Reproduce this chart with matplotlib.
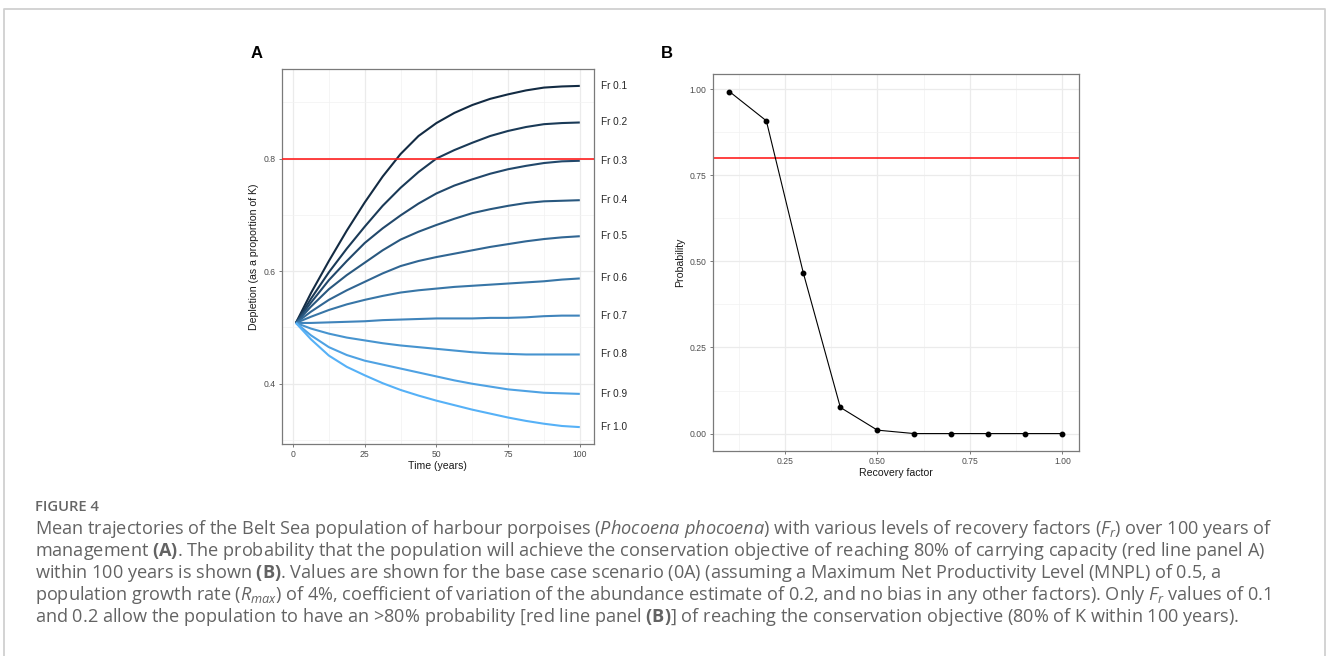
import matplotlib
matplotlib.use("Agg")
from matplotlib import pyplot as plt
from matplotlib.lines import Line2D
from matplotlib.colors import LinearSegmentedColormap
from matplotlib.ticker import FixedLocator

# Data - panel A (stredne trajektorie)
roky = [1, 6.25, 12.5, 18.75, 25, 31.25, 37.5, 43.75, 50,
        56.25, 62.5, 68.75, 75, 81.25, 87.5, 93.75, 100]
fr_01 = [0.508, 0.561, 0.618, 0.672, 0.722, 0.768, 0.808, 0.840, 0.863,
         0.881, 0.895, 0.906, 0.914, 0.921, 0.926, 0.928, 0.929]
fr_02 = [0.508, 0.551, 0.598, 0.640, 0.679, 0.716, 0.748, 0.776, 0.800,
         0.815, 0.828, 0.840, 0.849, 0.856, 0.861, 0.863, 0.864]
fr_03 = [0.508, 0.544, 0.584, 0.618, 0.650, 0.676, 0.699, 0.720, 0.738,
         0.752, 0.763, 0.773, 0.781, 0.787, 0.792, 0.795, 0.796]
fr_04 = [0.508, 0.537, 0.568, 0.593, 0.615, 0.637, 0.656, 0.670, 0.682,
         0.693, 0.703, 0.710, 0.716, 0.721, 0.724, 0.725, 0.726]
fr_05 = [0.508, 0.528, 0.549, 0.566, 0.581, 0.596, 0.609, 0.618, 0.625,
         0.631, 0.637, 0.643, 0.648, 0.653, 0.657, 0.660, 0.662]
fr_06 = [0.508, 0.519, 0.531, 0.541, 0.549, 0.556, 0.562, 0.566, 0.569,
         0.572, 0.574, 0.576, 0.578, 0.580, 0.582, 0.585, 0.587]
fr_07 = [0.508, 0.508, 0.509, 0.510, 0.511, 0.513, 0.514, 0.515, 0.516,
         0.516, 0.516, 0.517, 0.517, 0.518, 0.520, 0.521, 0.521]
fr_08 = [0.508, 0.498, 0.489, 0.482, 0.477, 0.472, 0.468, 0.465, 0.462,
         0.459, 0.456, 0.454, 0.453, 0.452, 0.452, 0.452, 0.452]
fr_09 = [0.508, 0.486, 0.465, 0.451, 0.441, 0.434, 0.427, 0.420, 0.413,
         0.406, 0.400, 0.395, 0.390, 0.387, 0.384, 0.383, 0.382]
fr_10 = [0.508, 0.479, 0.450, 0.430, 0.415, 0.401, 0.389, 0.379, 0.370,
         0.362, 0.354, 0.347, 0.340, 0.334, 0.329, 0.325, 0.323]
trajektorie = [fr_01, fr_02, fr_03, fr_04, fr_05, fr_06, fr_07, fr_08, fr_09, fr_10]
fr_popisy = ["Fr 0.1", "Fr 0.2", "Fr 0.3", "Fr 0.4", "Fr 0.5",
             "Fr 0.6", "Fr 0.7", "Fr 0.8", "Fr 0.9", "Fr 1.0"]

# Data - panel B (pravdepodobnost)
recovery_factor = [0.1, 0.2, 0.3, 0.4, 0.5, 0.6, 0.7, 0.8, 0.9, 1.0]
pravdepodobnost = [0.993, 0.908, 0.466, 0.076, 0.010, 0.0, 0.0, 0.0, 0.0, 0.0]
ciel = 0.8

popis_obrazku = "FIGURE 4"
riadky_popisu = [
    r"Mean trajectories of the Belt Sea population of harbour porpoises ($\mathit{Phocoena\ phocoena}$) with various levels of recovery factors ($F_r$) over 100 years of",
    r"management $\mathbf{(A)}$. The probability that the population will achieve the conservation objective of reaching 80% of carrying capacity (red line panel A)",
    r"within 100 years is shown $\mathbf{(B)}$. Values are shown for the base case scenario (0A) (assuming a Maximum Net Productivity Level (MNPL) of 0.5, a",
    r"population growth rate ($R_{max}$) of 4%, coefficient of variation of the abundance estimate of 0.2, and no bias in any other factors). Only $F_r$ values of 0.1",
    r"and 0.2 allow the population to have an >80% probability [red line panel $\mathbf{(B)}$] of reaching the conservation objective (80% of K within 100 years).",
]

plt.rcParams['font.family'] = ['Liberation Sans', 'DejaVu Sans']
plt.rcParams['mathtext.fontset'] = 'custom'
plt.rcParams['mathtext.rm'] = 'Open Sans'
plt.rcParams['mathtext.it'] = 'Open Sans:italic'
plt.rcParams['mathtext.bf'] = 'Open Sans:bold'

W, H = 1328, 656
fig = plt.figure(figsize=(W / 100, H / 100), dpi=100)


def fx(x):
    return x / W


def fy(y):
    return 1 - y / H


# Pomocna funkcia - styl ggplot theme_bw
def ggplot_styl(ax, x_major, x_minor, y_major, y_minor):
    ax.xaxis.set_major_locator(FixedLocator(x_major))
    ax.xaxis.set_minor_locator(FixedLocator(x_minor))
    ax.yaxis.set_major_locator(FixedLocator(y_major))
    ax.yaxis.set_minor_locator(FixedLocator(y_minor))
    ax.grid(which='major', color='#EBEBEB', linewidth=0.9)
    ax.grid(which='minor', color='#F2F2F2', linewidth=0.5)
    ax.set_axisbelow(True)
    for s in ax.spines.values():
        s.set_color('#7A7A7A')
        s.set_linewidth(0.9)
    ax.tick_params(which='major', length=2.5, width=0.7, color='#7A7A7A',
                   labelsize=6.2, labelcolor='#4D4D4D', pad=2)
    ax.tick_params(which='minor', length=0)


# Panel A
ax1 = fig.add_axes([fx(281.7), fy(444), fx(594 - 281.7), (444 - 69) / H])
cmap = LinearSegmentedColormap.from_list("gg", ["#132B43", "#56B1F7"])
for i, hodnoty in enumerate(trajektorie):
    ax1.plot(roky, hodnoty, color=cmap(i / (len(trajektorie) - 1)), linewidth=1.5,
             solid_capstyle='butt', solid_joinstyle='round', zorder=3)
    ax1.text(1.022, hodnoty[-1], fr_popisy[i], transform=ax1.get_yaxis_transform(),
             ha='left', va='center', fontsize=7.2, color='#262626', clip_on=False)
ax1.axhline(ciel, color='#FF2020', linewidth=1.2, zorder=4)
ax1.set_xlim(-3.95, 104.95)
ax1.set_ylim(0.293, 0.959)
ggplot_styl(ax1, [0, 25, 50, 75, 100], [12.5, 37.5, 62.5, 87.5],
            [0.4, 0.6, 0.8], [0.3, 0.5, 0.7, 0.9])
ax1.set_yticklabels(["0.4", "0.6", "0.8"])
ax1.set_xlabel("Time (years)", fontsize=7.6, labelpad=1.5, color='#1A1A1A')
ax1.set_ylabel("Depletion (as a proportion of K)", fontsize=7.6, labelpad=3, color='#1A1A1A')

# Panel B
ax2 = fig.add_axes([fx(712.7), fy(450.7), fx(1079 - 712.7), (450.7 - 74.3) / H])
ax2.plot(recovery_factor, pravdepodobnost, color='black', linewidth=0.8, zorder=3)
ax2.plot(recovery_factor, pravdepodobnost, 'o', color='black', markersize=3.2, zorder=4)
ax2.axhline(ciel, color='#FF2020', linewidth=1.2, zorder=2)
ax2.set_xlim(0.055, 1.045)
ax2.set_ylim(-0.0497, 1.043)
ggplot_styl(ax2, [0.25, 0.5, 0.75, 1.0], [0.125, 0.375, 0.625, 0.875],
            [0.0, 0.25, 0.5, 0.75, 1.0], [0.125, 0.375, 0.625, 0.875])
ax2.set_xticklabels(["0.25", "0.50", "0.75", "1.00"])
ax2.set_yticklabels(["0.00", "0.25", "0.50", "0.75", "1.00"])
ax2.set_xlabel("Recovery factor", fontsize=7.6, labelpad=1.5, color='#1A1A1A')
ax2.set_ylabel("Probability", fontsize=7.6, labelpad=3, color='#1A1A1A')

# Pismena panelov
fig.text(fx(257), fy(53), "A", fontsize=12, fontweight='bold', ha='center', va='center')
fig.text(fx(667), fy(53), "B", fontsize=12, fontweight='bold', ha='center', va='center')

# Ramcek okolo obrazku
ramcek = Line2D([fx(4), fx(4), fx(1325), fx(1325)], [0, fy(9), fy(9), 0],
                transform=fig.transFigure, color='#D0D0D0', linewidth=1.3)
fig.add_artist(ramcek)

# Popis obrazku
fig.text(fx(35), fy(511), popis_obrazku, fontsize=10.6, family='Open Sans',
         fontweight='semibold', color='#666666', va='baseline')
for i, riadok in enumerate(riadky_popisu):
    fig.text(fx(35), fy(534 + 22 * i), riadok, fontsize=13.1, family='Open Sans',
             color='#636363', va='baseline')

fig.savefig("out.png", dpi=100)
